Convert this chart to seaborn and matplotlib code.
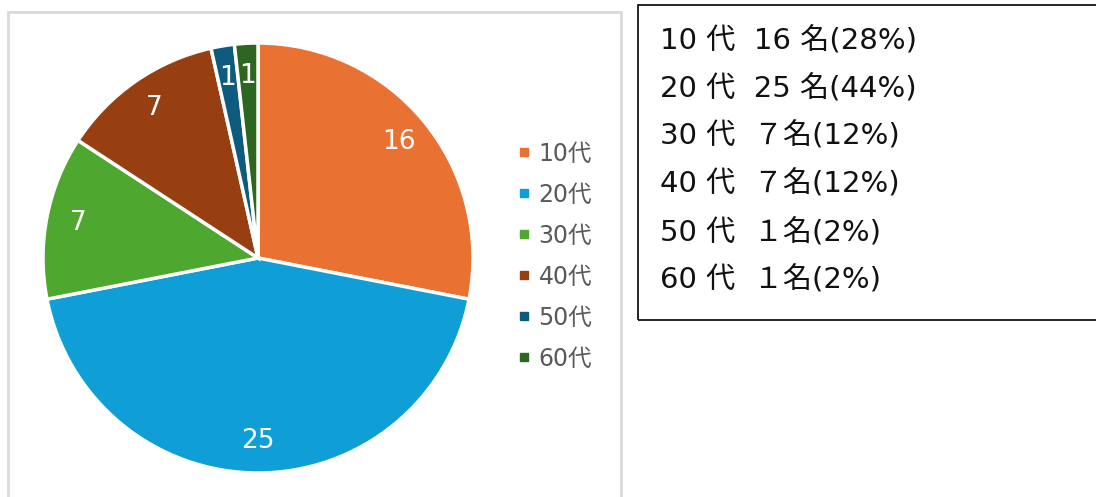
import numpy as np
import matplotlib.pyplot as plt
import seaborn as sns
from matplotlib.patches import Rectangle
from matplotlib.lines import Line2D

# data
ages = ['10代', '20代', '30代', '40代', '50代', '60代']
counts = [16, 25, 7, 7, 1, 1]
percents = [28, 44, 12, 12, 2, 2]
summary_lines = ['10 代  16 名(28%)', '20 代  25 名(44%)', '30 代  ７名(12%)',
                 '40 代  ７名(12%)', '50 代  １名(2%)', '60 代  １名(2%)']
colors = ['#E97132', '#0F9ED5', '#4EA72E', '#983F12', '#0D5C7F', '#2C6620']

sns.set_theme(style='white')
plt.rcParams['font.family'] = ['DejaVu Sans', 'Noto Sans CJK JP']
palette = sns.color_palette(colors)

W, H = 1096, 497
fig = plt.figure(figsize=(W / 100, H / 100), dpi=100)

# grey chart frame and black text box (pixel coords -> figure coords)
fig.patches.append(Rectangle((8 / W, -0.05), 613 / W, 1.05 - 12 / H, transform=fig.transFigure,
                             fill=False, edgecolor='#D9D9D9', lw=2))
fig.patches.append(Rectangle((638 / W, 1 - 320 / H), 470 / W, 315 / H, transform=fig.transFigure,
                             fill=False, edgecolor='#000000', lw=1.2))

cx, cy, r = 258, 258, 215
ax = fig.add_axes([(cx - r) / W, (H - cy - r) / H, 2 * r / W, 2 * r / H])
wedges, texts = ax.pie(counts, colors=palette, startangle=90, counterclock=False,
                       labels=[str(c) for c in counts], labeldistance=0.85,
                       wedgeprops=dict(edgecolor='white', linewidth=2.5, clip_on=False),
                       textprops=dict(color='white', fontsize=19, ha='center', va='center'))
ax.set_xlim(-1, 1)
ax.set_ylim(-1, 1)
ax.set_aspect('equal')
ax.axis('off')

handles = [Line2D([], [], marker='s', ls='', color=c, markersize=6) for c in palette]
fig.legend(handles, ages, loc='center left', bbox_to_anchor=(496 / W, 1 - 256 / H),
           frameon=False, fontsize=17, labelcolor='#595959', handlelength=0.6,
           handletextpad=0.3, labelspacing=0.72)

ys = [41, 89, 136, 184, 233, 280]
for line, y in zip(summary_lines, ys):
    fig.text(660 / W, 1 - y / H, line, fontsize=21, color='#111111', va='center', ha='left')

fig.savefig('out.png', dpi=100)
